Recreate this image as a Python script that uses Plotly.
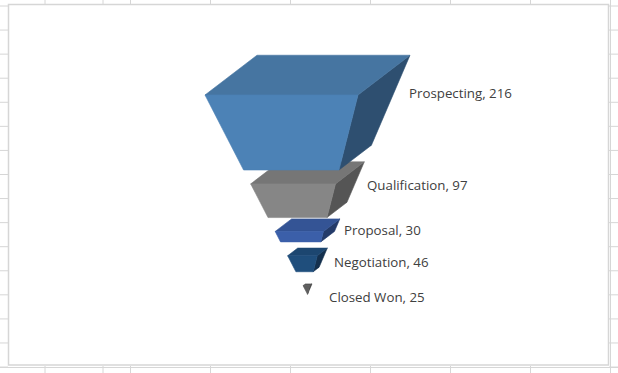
import plotly.graph_objects as go

# Data
stages = ["Prospecting", "Qualification", "Proposal", "Negotiation", "Closed Won"]
values = [216, 97, 30, 46, 25]

# Styles
front_colors = ["#4c82b6", "#868686", "#3b5fa9", "#1f4e7c", "#5e5e5e"]
top_colors = ["#4675a1", "#767676", "#345495", "#1c4670", "#555555"]
side_colors = ["#2e4f70", "#555555", "#243b69", "#14304e", "#3c3c3c"]
label_x_offsets = [-1, 3, 4, 7, 17]
label_y_offsets = [-2, 1, -1.5, 6.5, 11]

W, H = 618, 373
CX, TOP = 307.5, 95
PX_PER_UNIT = 75 / 216
GAP = 40            # gap between slices, in value units
TOP_WIDTH = 153
DX, DY = 0.34, 0.26  # perspective of the cone's depth
GRID = "#d6d6d6"

total = sum(values) + GAP * (len(values) - 1)


def width_at(u):
    return TOP_WIDTH * (1 - u / total)


def corners(u):
    w = width_at(u)
    return {
        "fl": -w * (1 + DX) / 2,
        "fr": w * (1 - DX) / 2,
        "bl": -w * (1 + DX) / 2 + DX * w,
        "br": w * (1 + DX) / 2,
        "dy": DY * w,
    }


fig = go.Figure()


def poly(xs, ys, color, name):
    fig.add_trace(go.Scatter(x=xs, y=ys, mode="lines", fill="toself", fillcolor=color,
                             line=dict(width=0.6, color=color), name=name, hoverinfo="name",
                             showlegend=False))


tops = []
u = 0
for v in values:
    tops.append(u)
    u += v + GAP

for i in reversed(range(len(values))):
    a, b = tops[i], tops[i] + values[i]
    ca, cb = corners(a), corners(b)
    poly([ca["fr"], ca["br"], cb["br"], cb["fr"], ca["fr"]],
         [a, a - ca["dy"] / PX_PER_UNIT, b - cb["dy"] / PX_PER_UNIT, b, a], side_colors[i], stages[i])
    poly([ca["fl"], ca["bl"], ca["br"], ca["fr"], ca["fl"]],
         [a, a - ca["dy"] / PX_PER_UNIT, a - ca["dy"] / PX_PER_UNIT, a, a], top_colors[i], stages[i])
    poly([ca["fl"], ca["fr"], cb["fr"], cb["fl"], ca["fl"]], [a, a, b, b, a], front_colors[i], stages[i])

annotations = []
for i, (s, v) in enumerate(zip(stages, values)):
    c = corners(tops[i])
    annotations.append(dict(
        x=c["br"] + label_x_offsets[i], y=tops[i] + label_y_offsets[i] / PX_PER_UNIT,
        text=f"{s}, {v}", showarrow=False, xanchor="left", yanchor="middle", xref="x", yref="y",
        xshift=-2, font=dict(family="Open Sans", size=13.3, color="#404040")))

shapes = []


def line(x0, y0, x1, y1, width=1):
    shapes.append(dict(type="line", xref="paper", yref="paper", layer="below",
                       x0=x0 / W, x1=x1 / W, y0=1 - y0 / H, y1=1 - y1 / H,
                       line=dict(color=GRID, width=width)))


for y in [6 + 24.07 * i for i in range(16)]:
    line(0, y, 8, y)
    line(609, y, 618, y)
for x in [45, 103, 130.5, 210.5, 290.5, 370.5, 450.5, 530.5]:
    line(x, 0, x, 4)
    line(x, 366, x, 373)
line(610.5, 0, 610.5, 373)
line(0, 367.5, 618, 367.5)
shapes.append(dict(type="rect", xref="paper", yref="paper", layer="below",
                   x0=8.5 / W, x1=608.5 / W, y0=1 - 4.5 / H, y1=1 - 365 / H,
                   line=dict(color=GRID, width=1.5), fillcolor="white"))

fig.update_layout(
    width=W, height=H, margin=dict(l=0, r=0, t=0, b=0), autosize=False,
    paper_bgcolor="white", plot_bgcolor="rgba(0,0,0,0)", showlegend=False,
    xaxis=dict(visible=False, range=[-CX, W - CX], fixedrange=True),
    yaxis=dict(visible=False, range=[(H - TOP) / PX_PER_UNIT, -TOP / PX_PER_UNIT], fixedrange=True),
    shapes=shapes, annotations=annotations,
)

fig.write_html("out.html", config=dict(displayModeBar=False),
               post_script="document.body.style.margin='0';document.body.style.overflow='hidden';")
